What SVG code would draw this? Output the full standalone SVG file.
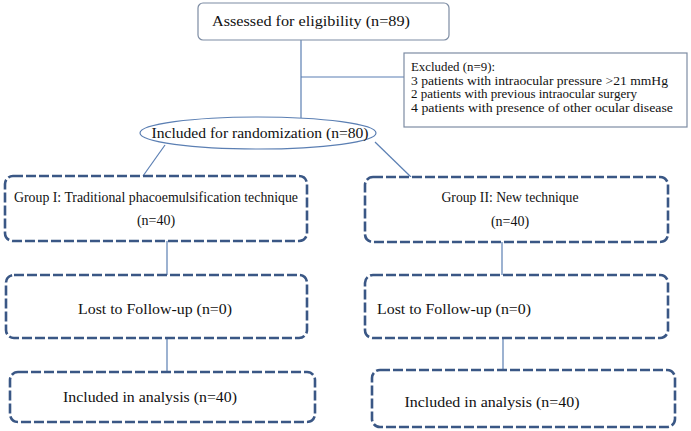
<svg xmlns="http://www.w3.org/2000/svg" width="691" height="431" viewBox="0 0 691 431">
<style>
text{font-family:"Liberation Serif","Times New Roman",serif;fill:#111;text-anchor:middle}
.t15{font-size:15px}
.t14{font-size:14px}
.ex{font-size:12px;text-anchor:start}
.box{fill:#fff;stroke:#3a5785;stroke-width:2.6;stroke-dasharray:10 3}
.conn{stroke:#5b7fb3;stroke-width:1.2;fill:none}
</style>
<rect width="691" height="431" fill="#fff"/>
<g id="connectors">
<line class="conn" x1="301" y1="40" x2="301" y2="118"/>
<line class="conn" x1="301" y1="77" x2="404" y2="77"/>
<line class="conn" x1="165" y1="145" x2="143" y2="176"/>
<line class="conn" x1="375" y1="142" x2="411" y2="177"/>
<line class="conn" x1="167" y1="241" x2="167" y2="275"/>
<line class="conn" x1="502" y1="242" x2="502" y2="275"/>
<line class="conn" x1="167" y1="338" x2="167" y2="371"/>
<line class="conn" x1="503" y1="338" x2="503" y2="370"/>
</g>
<g id="assessed">
<rect x="198" y="3" width="251" height="37" rx="5" fill="#fff" stroke="#7d8ca3" stroke-width="1.2"/>
<text class="t15" x="311" y="26" textLength="198" lengthAdjust="spacingAndGlyphs">Assessed for eligibility (n=89)</text>
</g>
<g id="excluded">
<rect x="404" y="53" width="283" height="74" fill="#fff" stroke="#7d8ca3" stroke-width="1.2"/>
<text class="ex" x="411" y="71" textLength="84" lengthAdjust="spacingAndGlyphs">Excluded (n=9):</text>
<text class="ex" x="411" y="84.5" textLength="257" lengthAdjust="spacingAndGlyphs">3 patients with intraocular pressure &gt;21 mmHg</text>
<text class="ex" x="411" y="98" textLength="226" lengthAdjust="spacingAndGlyphs">2 patients with previous intraocular surgery</text>
<text class="ex" x="411" y="111.5" textLength="262" lengthAdjust="spacingAndGlyphs">4 patients with presence of other ocular disease</text>
</g>
<g id="randomization">
<ellipse cx="258" cy="133" rx="118" ry="16" fill="#fff" stroke="#5b7fb3" stroke-width="1.2"/>
<text class="t15" x="260" y="138" textLength="217" lengthAdjust="spacingAndGlyphs">Included for randomization (n=80)</text>
</g>
<g id="group1">
<rect class="box" x="5" y="176" width="302" height="65" rx="8"/>
<text class="t14" x="156" y="202" textLength="284" lengthAdjust="spacingAndGlyphs">Group I: Traditional phacoemulsification technique</text>
<text class="t14" x="156" y="225">(n=40)</text>
</g>
<g id="group2">
<rect class="box" x="365" y="177" width="303" height="65" rx="8"/>
<text class="t14" x="510" y="202" textLength="137" lengthAdjust="spacingAndGlyphs">Group II: New technique</text>
<text class="t14" x="510" y="226">(n=40)</text>
</g>
<g id="lost1">
<rect class="box" x="6" y="275" width="301" height="63" rx="8"/>
<text class="t14" x="155" y="314" textLength="154" lengthAdjust="spacingAndGlyphs">Lost to Follow-up (n=0)</text>
</g>
<g id="lost2">
<rect class="box" x="365" y="275" width="303" height="63" rx="8"/>
<text class="t14" x="454" y="314" textLength="154" lengthAdjust="spacingAndGlyphs">Lost to Follow-up (n=0)</text>
</g>
<g id="incl1">
<rect class="box" x="10" y="372" width="305" height="50" rx="8"/>
<text class="t14" x="150" y="402" textLength="174" lengthAdjust="spacingAndGlyphs">Included in analysis (n=40)</text>
</g>
<g id="incl2">
<rect class="box" x="372" y="370" width="303" height="57" rx="8"/>
<text class="t14" x="492" y="407" textLength="175" lengthAdjust="spacingAndGlyphs">Included in analysis (n=40)</text>
</g>
</svg>
